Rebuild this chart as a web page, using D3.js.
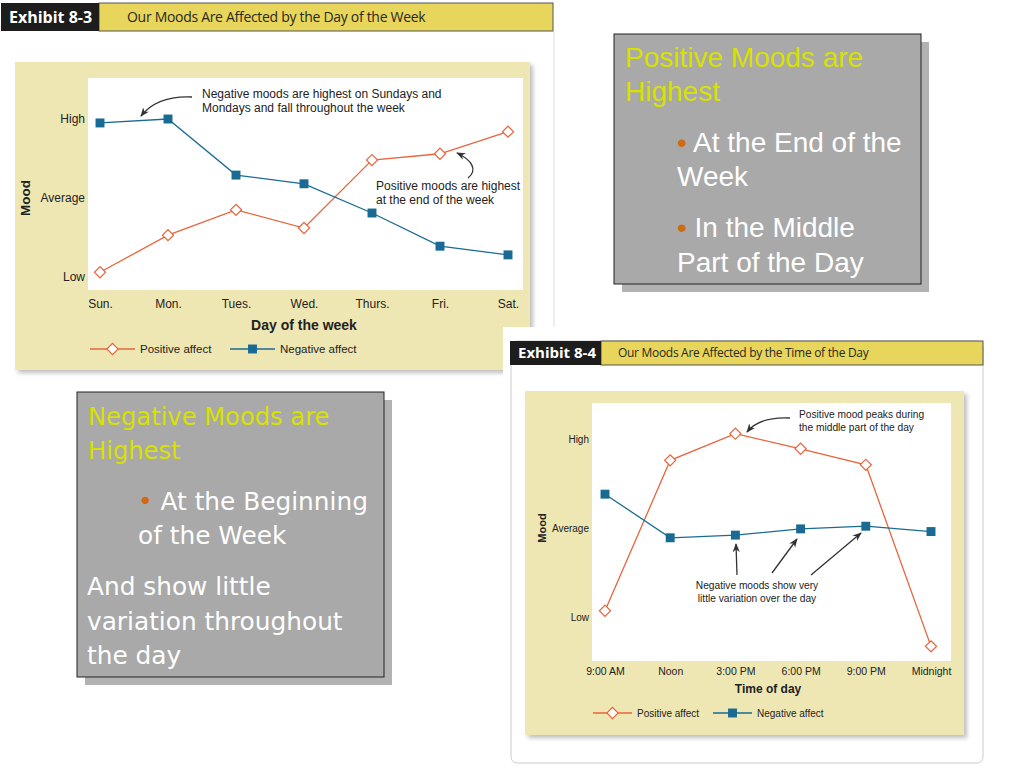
<!DOCTYPE html>
<html><head><meta charset="utf-8">
<script src="https://cdn.jsdelivr.net/npm/d3@7"></script>
<style>
html,body{margin:0;padding:0;background:#fff;}
svg{display:block;}
</style></head>
<body>
<svg id="c" width="1024" height="768"></svg>
<script>
// ---- Data ----
const moodLevels = ["Low", "Average", "High"];
const days = ["Sun.", "Mon.", "Tues.", "Wed.", "Thurs.", "Fri.", "Sat."];
const posWeek = [0.06, 0.53, 0.85, 0.62, 1.48, 1.56, 1.84];
const negWeek = [1.95, 2.00, 1.29, 1.18, 0.81, 0.39, 0.28];
const times = ["9:00 AM", "Noon", "3:00 PM", "6:00 PM", "9:00 PM", "Midnight"];
const posDay = [0.07, 1.76, 2.06, 1.89, 1.71, -0.33];
const negDay = [1.38, 0.89, 0.92, 0.99, 1.02, 0.96];

const ORANGE = "#e8643c", BLUE = "#1a6b94", BEIGE = "#efe7b3", YELLOW = "#e8d55c";
const chartFont = "'Liberation Sans', Arial, sans-serif";
const svg = d3.select("#c");
const defs = svg.append("defs");
defs.append("marker").attr("id","ah").attr("viewBox","0 0 10 10").attr("refX",9).attr("refY",5)
  .attr("markerWidth",7).attr("markerHeight",7).attr("orient","auto-start-reverse")
  .append("path").attr("d","M0,1 L10,5 L0,9 L3,5 Z").attr("fill","#333");
const sh = defs.append("filter").attr("id","psh").attr("x","-5%").attr("y","-5%").attr("width","115%").attr("height","115%");
sh.append("feDropShadow").attr("dx",3).attr("dy",3).attr("stdDeviation",2).attr("flood-color","#000").attr("flood-opacity",0.25);

function header(g, x0, y0, wBlack, wTotal, h, ex, title, exSize, tSize, tOff, tSpace){
  g.append("rect").attr("x",x0+wBlack).attr("y",y0).attr("width",wTotal-wBlack).attr("height",h)
    .attr("fill",YELLOW).attr("stroke","#555").attr("stroke-width",1);
  g.append("rect").attr("x",x0).attr("y",y0).attr("width",wBlack).attr("height",h).attr("fill","#1d1d1d");
  g.append("text").attr("x",x0+8).attr("y",y0+h/2).attr("dy","0.36em").attr("fill","#fff")
    .attr("font-family","'Open Sans', sans-serif").attr("font-weight","bold").attr("font-size",exSize).text(ex);
  g.append("text").attr("x",x0+wBlack+tOff).attr("y",y0+h/2).attr("dy","0.36em").attr("fill","#2a2a1a")
    .attr("font-family","'Open Sans', sans-serif").attr("font-size",tSize).attr("letter-spacing",tSpace).text(title);
}

function chart(cfg){
  const g = svg.append("g");
  if (cfg.bg) g.append("rect").attr("x",cfg.bg[0]).attr("y",cfg.bg[1]).attr("width",cfg.bg[2]).attr("height",cfg.bg[3]).attr("fill","#fff");
  if (cfg.frame) g.append("rect").attr("x",cfg.frame[0]).attr("y",cfg.frame[1]).attr("width",cfg.frame[2]).attr("height",cfg.frame[3])
     .attr("rx",6).attr("fill","#fff").attr("stroke","#ccc");
  header(g, ...cfg.header);
  g.append("rect").attr("x",cfg.panel[0]).attr("y",cfg.panel[1]).attr("width",cfg.panel[2]).attr("height",cfg.panel[3])
    .attr("fill",BEIGE).attr("filter","url(#psh)");
  const [px,py,pw,ph] = cfg.plot;
  g.append("rect").attr("x",px).attr("y",py).attr("width",pw).attr("height",ph).attr("fill","#fff");
  const x = d3.scalePoint().domain(cfg.cats).range(cfg.xr);
  const y = d3.scaleLinear().domain([0,2]).range(cfg.yr);
  const ya = g.append("g").attr("transform",`translate(${px},0)`)
    .call(d3.axisLeft(y).tickValues([0,1,2]).tickFormat(i=>moodLevels[i]).tickSize(0).tickPadding(3));
  ya.select(".domain").remove();
  ya.selectAll("text").attr("font-family",chartFont).attr("font-size",cfg.fs.y).attr("fill","#222");
  const xa = g.append("g").attr("transform",`translate(0,${py+ph})`)
    .call(d3.axisBottom(x).tickSize(0).tickPadding(cfg.xpad));
  xa.select(".domain").remove();
  xa.selectAll("text").attr("font-family",chartFont).attr("font-size",cfg.fs.x).attr("fill","#222");
  g.append("text").attr("transform",`translate(${cfg.moodX},${y(1)}) rotate(-90)`).attr("text-anchor","middle")
    .attr("dy","0.35em").attr("font-family",chartFont).attr("font-weight","bold").attr("font-size",cfg.fs.mood).attr("fill","#222").text("Mood");
  g.append("text").attr("x",(cfg.xr[0]+cfg.xr[1])/2).attr("y",cfg.xtitleY).attr("text-anchor","middle")
    .attr("font-family",chartFont).attr("font-weight","bold").attr("font-size",cfg.fs.xt).attr("fill","#222").text(cfg.xtitle);

  const line = d3.line().x((d,i)=>x(cfg.cats[i])).y(d=>y(d));
  g.append("path").datum(cfg.pos).attr("d",line).attr("fill","none").attr("stroke",ORANGE).attr("stroke-width",1.3);
  g.append("path").datum(cfg.neg).attr("d",line).attr("fill","none").attr("stroke",BLUE).attr("stroke-width",1.3);
  const dia = d3.symbol(d3.symbolSquare, 62)();
  const sq = d3.symbol(d3.symbolSquare, 80)();
  g.selectAll(".pm").data(cfg.pos).join("path").attr("d",dia)
    .attr("transform",(d,i)=>`translate(${x(cfg.cats[i])},${y(d)}) rotate(45)`)
    .attr("fill","#fff").attr("stroke",ORANGE).attr("stroke-width",1.2);
  g.selectAll(".nm").data(cfg.neg).join("path").attr("d",sq)
    .attr("transform",(d,i)=>`translate(${x(cfg.cats[i])},${y(d)})`).attr("fill",BLUE);

  // legend
  const [lx,ly,gap,len] = cfg.legend;
  const lf = cfg.fs.leg;
  g.append("line").attr("x1",lx).attr("x2",lx+len).attr("y1",ly).attr("y2",ly).attr("stroke",ORANGE).attr("stroke-width",1.3);
  g.append("path").attr("d",dia).attr("transform",`translate(${lx+len/2},${ly}) rotate(45)`).attr("fill","#fff").attr("stroke",ORANGE).attr("stroke-width",1.2);
  g.append("text").attr("x",lx+len+5).attr("y",ly).attr("dy","0.35em").attr("font-family",chartFont).attr("font-size",lf).attr("fill","#222").text("Positive affect");
  g.append("line").attr("x1",lx+gap).attr("x2",lx+gap+len).attr("y1",ly).attr("y2",ly).attr("stroke",BLUE).attr("stroke-width",1.3);
  g.append("path").attr("d",sq).attr("transform",`translate(${lx+gap+len/2},${ly})`).attr("fill",BLUE);
  g.append("text").attr("x",lx+gap+len+5).attr("y",ly).attr("dy","0.35em").attr("font-family",chartFont).attr("font-size",lf).attr("fill","#222").text("Negative affect");

  // annotations
  cfg.notes.forEach(n=>{
    const t = g.append("text").attr("font-family",chartFont).attr("font-size",cfg.fs.note).attr("fill","#222")
      .attr("text-anchor",n.anchor||"start");
    n.lines.forEach((s,i)=>t.append("tspan").attr("x",n.x).attr("y",n.y+i*cfg.fs.lh).text(s));
  });
  cfg.arrows.forEach(a=>{
    g.append("path").attr("d",a(x,y)).attr("fill","none").attr("stroke","#333").attr("stroke-width",1.3).attr("marker-end","url(#ah)");
  });
  return g;
}

// Exhibit 8-3
svg.append("line").attr("x1",554).attr("x2",554).attr("y1",32).attr("y2",370).attr("stroke","#ddd");
chart({
  header:[1,3,98,552,28,"Exhibit 8-3","Our Moods Are Affected by the Day of the Week",16,14,28,-0.3],
  panel:[15,62,515,308],
  plot:[88,78,435,212],
  cats:days, pos:posWeek, neg:negWeek,
  xr:[100,508], yr:[277,119], xpad:9, moodX:25,
  fs:{x:12,y:12,mood:13.5,xt:14,leg:11.5,note:12,lh:14},
  xtitle:"Day of the week", xtitleY:330,
  legend:[90,349,140,45],
  notes:[
    {x:202,y:98,lines:["Negative moods are highest on Sundays and","Mondays and fall throughout the week"]},
    {x:376,y:190,lines:["Positive moods are highest","at the end of the week"]}
  ],
  arrows:[
    (x,y)=>`M192,97 C170,96 152,102 141,116`,
    (x,y)=>`M468,178 C478,170 472,160 457,153`
  ]
});

// Exhibit 8-4
chart({
  bg:[503,327,521,441],
  frame:[511,341,472,422],
  header:[510,341,91,473,24,"Exhibit 8-4","Our Moods Are Affected by the Time of the Day",15,12,17,-0.3],
  panel:[525,391,439,344],
  plot:[592,403,359,258],
  cats:times, pos:posDay, neg:negDay,
  xr:[605,931], yr:[617,439], xpad:7, moodX:542,
  fs:{x:10.5,y:10,mood:11,xt:12,leg:10,note:10.2,lh:13},
  xtitle:"Time of day", xtitleY:693,
  legend:[593,713,120,39],
  notes:[
    {x:799,y:418,lines:["Positive mood peaks during","the middle part of the day"]},
    {x:757,y:589,anchor:"middle",lines:["Negative moods show very","little variation over the day"]}
  ],
  arrows:[
    (x,y)=>`M790,418 C770,417 755,422 747,432`,
    (x,y)=>`M737,575 L736,544`,
    (x,y)=>`M772,573 L797,539`,
    (x,y)=>`M811,575 L861,533`
  ]
});

// text boxes
function textBox(bx,by,bw,bh,font,titleLines,titleY,items){
  const g = svg.append("g");
  g.append("rect").attr("x",bx+8).attr("y",by+8).attr("width",bw).attr("height",bh).attr("fill","#b2b2b2");
  g.append("rect").attr("x",bx).attr("y",by).attr("width",bw).attr("height",bh).attr("fill","#a9a9a9").attr("stroke","#222").attr("stroke-width",1);
  titleLines.forEach((s,i)=>g.append("text").attr("x",bx+11).attr("y",titleY+i*34).attr("font-family",font.f).attr("font-size",font.t)
     .attr("fill","#d8e100").text(s));
  items.forEach(it=>{
    it.lines.forEach((s,i)=>{
      const t = g.append("text").attr("x",it.x).attr("y",it.y+i*34.5).attr("font-family",font.f).attr("font-size",font.s).attr("fill","#fff");
      if (i===0 && it.bullet){ t.append("tspan").attr("fill","#d06a10").text("• "); }
      t.append("tspan").text(s);
    });
  });
}
textBox(614,34,307,250,{f:"'Liberation Sans', Arial, sans-serif",s:28,t:28},["Positive Moods are","Highest"],67,[
  {x:677,y:152,bullet:true,lines:["At the End of the"]},
  {x:677,y:186,lines:["Week"]},
  {x:677,y:237,bullet:true,lines:["In the Middle"]},
  {x:677,y:272,lines:["Part of the Day"]}
]);
textBox(77,392,307,285,{f:"'DejaVu Sans', Verdana, sans-serif",s:24.8,t:24.2},["Negative Moods are","Highest"],425,[
  {x:138,y:510,bullet:true,lines:["At the Beginning"]},
  {x:138,y:544,lines:["of the Week"]},
  {x:87,y:595,lines:["And show little","variation throughout","the day"]}
]);
</script>
</body></html>
